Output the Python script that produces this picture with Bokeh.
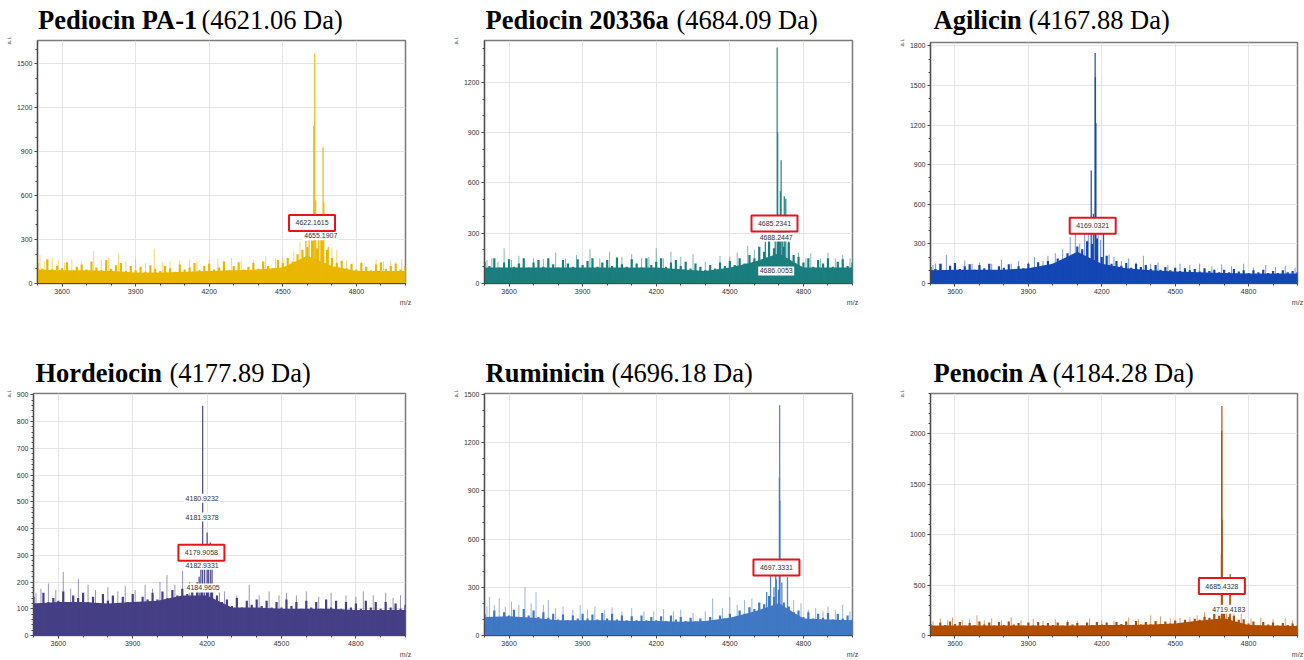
from bokeh.plotting import figure
from bokeh.layouts import row, column
from bokeh.models import SingleIntervalTicker, Range1d, LinearAxis
from bokeh.embed import file_html
from bokeh.resources import INLINE
from bokeh.core.properties import value

# ---------------- data ----------------
NAMES = ["Pediocin PA-1", "Pediocin 20336a", "Agilicin", "Hordeiocin", "Ruminicin", "Penocin A"]
MASSES = ["(4621.06 Da)", "(4684.09 Da)", "(4167.88 Da)", "(4177.89 Da)", "(4696.18 Da)", "(4184.28 Da)"]
COLORS = ["#EAB700", "#1B7E7E", "#1446B4", "#453F85", "#4078C4", "#B24E00"]
Y_MAX = [1660, 1450, 1825, 905, 1505, 2400]
Y_STEP = [300, 300, 300, 100, 300, 500]
X_TICK_STEP = 300

base_mz = [3500, 3600, 3700, 3800, 3900, 4000, 4100, 4200, 4300, 4400, 4500, 4600, 4700, 4800, 4900, 5000]
noise_mz = [3500, 3520, 3540, 3560, 3580, 3600, 3620, 3640, 3660, 3680,
            3700, 3720, 3740, 3760, 3780, 3800, 3820, 3840, 3860, 3880,
            3900, 3920, 3940, 3960, 3980, 4000, 4020, 4040, 4060, 4080,
            4100, 4120, 4140, 4160, 4180, 4200, 4220, 4240, 4260, 4280,
            4300, 4320, 4340, 4360, 4380, 4400, 4420, 4440, 4460, 4480,
            4500, 4520, 4540, 4560, 4580, 4600, 4620, 4640, 4660, 4680,
            4700, 4720, 4740, 4760, 4780, 4800, 4820, 4840, 4860, 4880,
            4900, 4920, 4940, 4960, 4980, 5000]

# Pediocin PA-1
pa1_base = [95, 90, 90, 85, 75, 75, 80, 85, 90, 95, 110, 190, 120, 85, 85, 85]
pa1_floor = [140, 100, 165, 95, 120, 105, 145, 85, 115, 130,
             95, 150, 110, 90, 160, 100, 125, 140, 85, 120,
             90, 115, 80, 125, 100, 85, 120, 105, 80, 130,
             95, 110, 140, 90, 120, 135, 95, 110, 150, 90,
             120, 145, 95, 115, 140, 100, 150, 120, 105, 160,
             140, 175, 150, 200, 230, 250, 290, 240, 300, 230,
             175, 140, 155, 105, 135, 95, 140, 115, 90, 130,
             145, 100, 120, 135, 95, 120]
pa1_spike_mz = [3510, 3530, 3560, 3585, 3610, 3640, 3680, 3729, 3760, 3790, 3830, 3860, 3900, 3940,
                3976, 4010, 4040, 4080, 4120, 4150, 4200, 4235, 4260, 4290, 4330, 4380, 4430, 4470,
                4500, 4545, 4570, 4700, 4720, 4760, 4820, 4880, 4910, 4940, 4960, 4985]
pa1_spike_h = [195, 150, 175, 160, 140, 165, 150, 222, 160, 180, 200, 150, 165, 140,
               238, 145, 150, 155, 165, 150, 160, 170, 150, 175, 155, 160, 185, 170,
               180, 215, 280, 240, 230, 160, 150, 165, 150, 155, 145, 165]
pa1_peak_mz = [4626, 4630, 4634, 4664, 4667, 4594, 4607, 4618, 4645, 4652, 4686]
pa1_peak_h = [1080, 1572, 568, 930, 555, 290, 310, 360, 330, 300, 250]
pa1_tag_text = ["4622.1615", "4655.1907"]
pa1_tag_mz = [4619, 4655]
pa1_tag_h = [414, 327]

# Pediocin 20336a
p20_base = [95, 95, 95, 95, 95, 95, 95, 95, 85, 75, 95, 130, 180, 95, 95, 95]
p20_floor = [130, 105, 150, 95, 125, 145, 100, 120, 150, 95,
             125, 140, 100, 150, 115, 95, 140, 120, 100, 145,
             110, 135, 150, 100, 125, 140, 105, 155, 115, 100,
             145, 120, 95, 150, 110, 130, 150, 100, 125, 140,
             105, 130, 90, 120, 100, 80, 110, 90, 125, 105,
             135, 110, 150, 120, 170, 150, 220, 190, 255, 210,
             270, 220, 245, 170, 160, 125, 150, 100, 140, 120,
             150, 100, 130, 145, 105, 125]
p20_spike_mz = [3510, 3530, 3555, 3580, 3610, 3640, 3700, 3740, 3790, 3830, 3875, 3930, 3970, 4010,
                4060, 4100, 4140, 4170, 4200, 4230, 4260, 4300, 4350, 4400, 4460, 4500, 4530, 4573,
                4600, 4780, 4810, 4830, 4870, 4900, 4930, 4960, 4990]
p20_spike_h = [140, 150, 130, 210, 140, 165, 150, 145, 185, 150, 170, 205, 150, 190,
               160, 175, 150, 160, 210, 150, 190, 160, 175, 130, 165, 160, 185, 224,
               200, 185, 150, 180, 150, 185, 150, 170, 150]
p20_peak_mz = [4693, 4695, 4706, 4709, 4722, 4728, 4685, 4700, 4715, 4740, 4660, 4645]
p20_peak_h = [1408, 900, 550, 735, 520, 505, 330, 330, 330, 320, 270, 250]
p20_tag_text = ["4685.2341", "4688.2447", "4686.0053"]
p20_tag_mz = [4682, 4689, 4689]
p20_tag_h = [358, 277, 75]

# Agilicin
agi_base = [100, 105, 105, 105, 115, 150, 240, 150, 115, 100, 90, 85, 80, 75, 75, 75]
agi_floor = [125, 110, 150, 100, 135, 155, 110, 130, 145, 105,
             140, 115, 150, 100, 130, 120, 145, 105, 130, 115,
             150, 120, 160, 135, 170, 150, 190, 170, 230, 210,
             280, 260, 320, 300, 340, 200, 210, 150, 170, 135,
             155, 120, 150, 125, 140, 110, 140, 105, 125, 100,
             120, 95, 115, 100, 110, 90, 115, 95, 105, 85,
             105, 85, 110, 90, 100, 80, 100, 85, 105, 80,
             95, 80, 100, 85, 95, 85]
agi_spike_mz = [3510, 3520, 3545, 3565, 3600, 3640, 3670, 3700, 3750, 3790, 3830, 3860, 3900, 3925,
                3960, 3980, 4010, 4040, 4071, 4092, 4110, 4130, 4145, 4185, 4195, 4230, 4250, 4280,
                4310, 4340, 4370, 4400, 4430, 4470, 4520, 4560, 4600, 4650, 4690, 4730, 4780, 4820,
                4870, 4910, 4950, 4990]
agi_spike_h = [140, 150, 150, 215, 150, 175, 150, 160, 150, 180, 150, 170, 160, 200,
               170, 210, 230, 260, 352, 402, 300, 390, 420, 400, 330, 220, 200, 170,
               190, 160, 210, 150, 160, 140, 150, 140, 150, 130, 145, 130, 150, 120,
               140, 125, 135, 120]
agi_peak_mz = [4157, 4166, 4173, 4174, 4176, 4207]
agi_peak_h = [856, 529, 1745, 1561, 1216, 377]
agi_tag_text = ["4169.0321"]
agi_tag_mz = [4163]
agi_tag_h = [438]

# Hordeiocin
hor_base = [120, 125, 125, 120, 125, 130, 150, 150, 105, 105, 100, 100, 100, 95, 95, 95]
hor_floor = [145, 120, 160, 125, 140, 130, 165, 120, 150, 140,
             160, 125, 145, 120, 155, 130, 150, 115, 145, 125,
             155, 120, 145, 135, 160, 135, 165, 140, 170, 150,
             175, 155, 180, 165, 185, 170, 175, 150, 125, 135,
             110, 140, 105, 130, 115, 135, 110, 130, 105, 125,
             105, 135, 110, 125, 100, 130, 105, 125, 100, 135,
             105, 130, 100, 125, 105, 120, 100, 130, 105, 125,
             100, 125, 105, 120, 100, 115]
hor_spike_mz = [3510, 3530, 3560, 3590, 3620, 3650, 3681, 3720, 3750, 3800, 3840, 3870, 3910, 3950,
                3980, 4010, 4038, 4070, 4101, 4130, 4250, 4270, 4320, 4370, 4410, 4450, 4490, 4520,
                4560, 4600, 4650, 4700, 4760, 4800, 4830, 4870, 4920, 4950, 4980]
hor_spike_h = [160, 175, 195, 170, 238, 175, 211, 190, 170, 180, 165, 185, 170, 190,
               175, 200, 226, 190, 242, 200, 170, 165, 150, 190, 150, 165, 150, 160,
               150, 165, 145, 160, 150, 145, 165, 150, 160, 140, 150]
hor_peak_mz = [4182, 4175, 4168, 4190, 4200, 4205, 4213, 4220, 4160]
hor_peak_h = [859, 250, 220, 260, 385, 290, 348, 260, 200]
hor_tag_text = ["4179.9058", "4180.9232", "4181.9378", "4182.9331", "4184.9605"]
hor_tag_mz = [4177, 4180, 4180, 4180, 4184]
hor_tag_h = [309, 513, 443, 263, 178]

# Ruminicin
rum_base = [115, 120, 110, 95, 95, 95, 90, 90, 85, 90, 110, 150, 200, 105, 100, 95]
rum_floor = [135, 110, 155, 115, 145, 125, 160, 115, 165, 125,
             155, 115, 145, 110, 135, 100, 130, 95, 125, 105,
             135, 105, 130, 100, 140, 105, 135, 100, 125, 95,
             120, 95, 125, 95, 115, 95, 120, 90, 125, 100,
             115, 90, 110, 85, 105, 90, 115, 95, 125, 105,
             135, 115, 155, 135, 175, 165, 205, 195, 245, 240,
             285, 205, 180, 145, 155, 115, 145, 105, 135, 110,
             140, 100, 135, 105, 125, 100]
rum_spike_mz = [3510, 3520, 3540, 3560, 3585, 3610, 3640, 3665, 3690, 3710, 3740, 3760, 3790, 3820,
                3860, 3890, 3920, 3950, 3990, 4020, 4060, 4100, 4150, 4190, 4230, 4270, 4300, 4350,
                4400, 4430, 4470, 4500, 4530, 4560, 4590, 4760, 4790, 4820, 4850, 4880, 4900, 4930,
                4960, 4990]
rum_spike_h = [180, 240, 190, 230, 180, 210, 190, 300, 200, 270, 190, 220, 170, 180,
               160, 190, 160, 180, 160, 175, 150, 170, 150, 150, 165, 150, 160, 140,
               150, 230, 170, 240, 190, 220, 230, 220, 200, 160, 170, 150, 180, 160,
               190, 150]
rum_peak_mz = [4703, 4702, 4704, 4735, 4687, 4666, 4690, 4712, 4680, 4650]
rum_peak_h = [1432, 983, 838, 362, 455, 393, 350, 330, 300, 270]
rum_tag_text = ["4697.3331"]
rum_tag_mz = [4690]
rum_tag_h = [423]

# Penocin A
pen_base = [100, 100, 100, 100, 100, 100, 100, 105, 105, 110, 120, 150, 170, 105, 100, 95]
pen_floor = [115, 95, 130, 105, 140, 115, 135, 100, 125, 105,
             140, 110, 130, 100, 135, 105, 140, 110, 125, 100,
             130, 100, 135, 105, 125, 105, 130, 100, 135, 110,
             125, 100, 130, 105, 135, 110, 130, 105, 135, 115,
             140, 105, 145, 110, 135, 110, 145, 115, 140, 120,
             150, 120, 155, 135, 165, 155, 185, 175, 215, 195,
             225, 185, 195, 155, 160, 120, 140, 105, 135, 110,
             130, 100, 125, 105, 120, 100]
pen_spike_mz = [3510, 3540, 3570, 3590, 3630, 3660, 3690, 3720, 3750, 3790, 3830, 3870, 3920, 3960,
                4010, 4060, 4100, 4150, 4200, 4250, 4310, 4350, 4400, 4440, 4480, 4520, 4560, 4590,
                4620, 4660, 4700, 4710, 4740, 4770, 4810, 4850, 4900, 4950, 4980]
pen_spike_h = [140, 170, 150, 180, 150, 160, 200, 150, 170, 150, 180, 150, 165, 145,
               160, 150, 145, 170, 150, 145, 180, 160, 200, 190, 170, 175, 180, 200,
               230, 260, 300, 280, 250, 220, 170, 180, 160, 170, 150]
pen_peak_mz = [4691, 4690, 4692, 4689, 4725, 4724]
pen_peak_h = [2276, 2030, 1151, 806, 609, 493]
pen_tag_text = ["4685.4328", "4719.4183"]
pen_tag_mz = [4691, 4719]
pen_tag_h = [490, 260]

SERIES = [
    (pa1_base, pa1_floor, pa1_spike_mz, pa1_spike_h, pa1_peak_mz, pa1_peak_h, pa1_tag_text, pa1_tag_mz, pa1_tag_h),
    (p20_base, p20_floor, p20_spike_mz, p20_spike_h, p20_peak_mz, p20_peak_h, p20_tag_text, p20_tag_mz, p20_tag_h),
    (agi_base, agi_floor, agi_spike_mz, agi_spike_h, agi_peak_mz, agi_peak_h, agi_tag_text, agi_tag_mz, agi_tag_h),
    (hor_base, hor_floor, hor_spike_mz, hor_spike_h, hor_peak_mz, hor_peak_h, hor_tag_text, hor_tag_mz, hor_tag_h),
    (rum_base, rum_floor, rum_spike_mz, rum_spike_h, rum_peak_mz, rum_peak_h, rum_tag_text, rum_tag_mz, rum_tag_h),
    (pen_base, pen_floor, pen_spike_mz, pen_spike_h, pen_peak_mz, pen_peak_h, pen_tag_text, pen_tag_mz, pen_tag_h),
]

# ---------------- layout / style ----------------
# w: panel width, th: title strip height, h: plot height, l/r/t/b: borders around frame,
# bx/mx: panel-relative x of bold name / mass text
LAYOUT = [
    dict(w=440, th=36, h=274, l=37, r=35, t=4, b=27, bx=37.5, mx=201),
    dict(w=440, th=36, h=274, l=44, r=28, t=4, b=27, bx=45, mx=236),
    dict(w=424, th=36, h=274, l=50, r=7, t=6, b=27, bx=53, mx=148),
    dict(w=440, th=79, h=271, l=33, r=35, t=4, b=23, bx=35, mx=169),
    dict(w=440, th=79, h=271, l=44, r=28, t=4, b=23, bx=45, mx=171),
    dict(w=424, th=79, h=271, l=50, r=7, t=4, b=23, bx=53, mx=172),
]
TITLE_MID = 16.5   # height of the text middle above the bottom of the title strip
TITLE_SIZE = "26.5px"

SANS = "Liberation Sans"
SERIF = "Liberation Serif"
AXIS_COL = "#4a4a4a"
HAS_ALIGN = "axis_label_align" in LinearAxis.properties()


def make_title(i):
    lay = LAYOUT[i]
    fw = lay["w"] - lay["l"] - lay["r"]
    t = figure(width=lay["w"], height=lay["th"],
               x_range=Range1d(0, fw), y_range=Range1d(0, lay["th"]),
               output_backend="svg", toolbar_location=None,
               x_axis_location=None, y_axis_location=None,
               min_border_left=lay["l"], min_border_right=lay["r"],
               min_border_top=0, min_border_bottom=0,
               outline_line_color=None, background_fill_color="white", border_fill_color="white")
    t.xgrid.visible = False
    t.ygrid.visible = False
    t.text(x=[lay["bx"] - lay["l"]], y=[TITLE_MID], text=[NAMES[i]], text_font=value(SERIF),
           text_font_style=value("bold"), text_font_size=value(TITLE_SIZE),
           text_baseline=value("middle"), text_align=value("left"), text_color="black")
    t.text(x=[lay["mx"] - lay["l"]], y=[TITLE_MID], text=[MASSES[i]], text_font=value(SERIF),
           text_font_style=value("normal"), text_font_size=value(TITLE_SIZE),
           text_baseline=value("middle"), text_align=value("left"), text_color="black")
    return t


def make_panel(i):
    lay = LAYOUT[i]
    base, floor, smz, sh, pmz, ph, ttext, tmz, th = SERIES[i]
    color = COLORS[i]
    ymax = Y_MAX[i]
    p = figure(width=lay["w"], height=lay["h"],
               x_range=Range1d(3500, 5000), y_range=Range1d(0, ymax),
               output_backend="svg", toolbar_location=None,
               min_border_left=lay["l"], min_border_right=lay["r"],
               min_border_top=lay["t"], min_border_bottom=lay["b"],
               background_fill_color="white", border_fill_color="white",
               outline_line_color="#7a7a7a", outline_line_width=1.5)
    p.xaxis.ticker = SingleIntervalTicker(interval=X_TICK_STEP, num_minor_ticks=3)
    nminor = 5 if Y_STEP[i] != 300 else 3
    p.yaxis.ticker = SingleIntervalTicker(interval=Y_STEP[i], num_minor_ticks=nminor)
    for ax in (p.xaxis, p.yaxis):
        ax.major_label_text_font = SANS
        ax.major_label_text_font_size = "7px"
        ax.major_label_text_color = "#333333"
        ax.axis_line_color = AXIS_COL
        ax.axis_line_width = 1.2
        ax.major_tick_line_color = AXIS_COL
        ax.minor_tick_line_color = AXIS_COL
        ax.major_tick_in = 0
        ax.major_tick_out = 3
        ax.minor_tick_in = 0
        ax.minor_tick_out = 2
        ax.major_label_standoff = 2
        ax.axis_label_text_font = SANS
        ax.axis_label_text_font_style = "normal"
        ax.axis_label_text_color = "#444444"
        ax.axis_label_standoff = 2
    p.xaxis.axis_label = "m/z"
    p.xaxis.axis_label_text_font_size = "7px"
    p.yaxis.axis_label = "a.i."
    p.yaxis.axis_label_text_font_size = "6px"
    if HAS_ALIGN:
        p.xaxis.axis_label_align = "end"
        p.yaxis.axis_label_align = "end"
    p.xgrid.grid_line_color = "#e4e4e4"
    p.ygrid.grid_line_color = "#e4e4e4"

    # spectrum: solid noise band, dense noise lines, light spikes, peaks
    p.varea(x=base_mz, y1=0, y2=base, fill_color=color, fill_alpha=1.0)
    p.segment(x0=noise_mz, y0=0, x1=noise_mz, y1=floor, line_color=color, line_width=2.2)
    p.segment(x0=smz, y0=0, x1=smz, y1=sh, line_color=color, line_alpha=0.55, line_width=1)
    p.segment(x0=pmz, y0=0, x1=pmz, y1=ph, line_color=color, line_alpha=0.9, line_width=1.3)

    # peak tags: first one in a red box, rest on white background
    p.rect(x=tmz[1:], y=th[1:], width=36, height=9, width_units="screen", height_units="screen",
           fill_color="white", line_color=None)
    p.rect(x=tmz[:1], y=th[:1], width=46, height=16, width_units="screen", height_units="screen",
           fill_color="white", line_color="#E8141B", line_width=2)
    p.text(x=tmz, y=th, text=ttext, text_align="center", text_baseline="middle",
           text_font=value(SANS), text_font_size=value("7px"), text_color="#333333")
    return p


cells = [column(make_title(i), make_panel(i)) for i in range(6)]
layout = column(row(cells[0], cells[1], cells[2]), row(cells[3], cells[4], cells[5]))
open("out.html", "w").write(file_html(layout, INLINE))
